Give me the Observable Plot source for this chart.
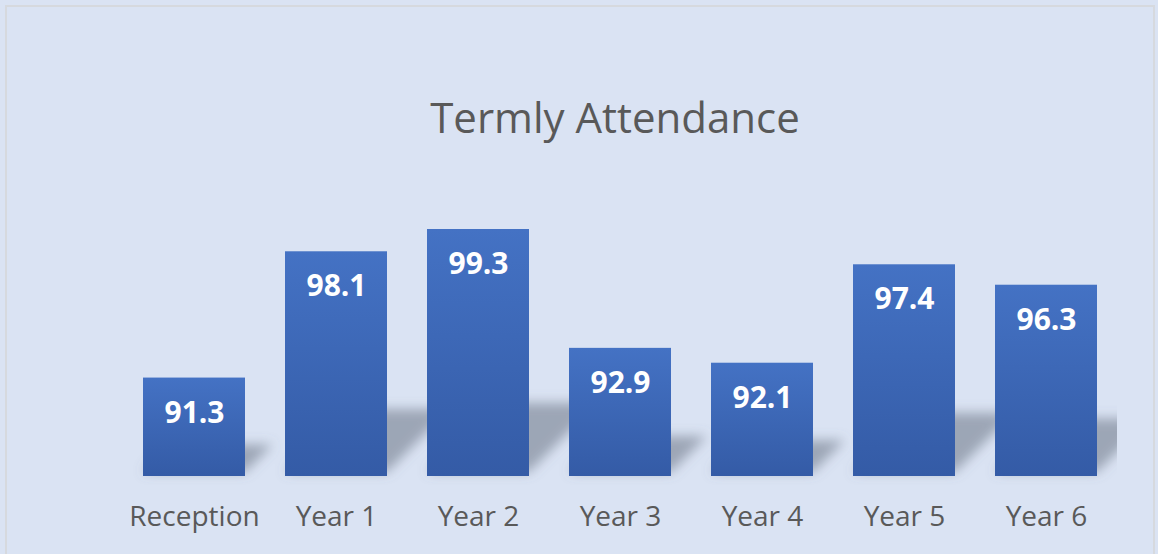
<!DOCTYPE html>
<html>
<head>
<meta charset="utf-8">
<script src="https://cdn.jsdelivr.net/npm/d3@7"></script>
<script src="https://cdn.jsdelivr.net/npm/@observablehq/plot@0.6"></script>
<style>
  html, body { margin: 0; padding: 0; background: #dae3f3; width: 1158px; height: 554px; overflow: hidden; }
  #frame { position: absolute; left: 5px; top: 5px; width: 1150px; height: 560px; border: 2px solid #d6d9de; border-bottom: none; box-sizing: border-box; }
  #title { position: absolute; left: 36px; width: 1158px; top: 89px; text-align: center; font-family: "Open Sans", sans-serif; font-size: 42px; color: #595959; line-height: 56px; }
  #chart { position: absolute; left: 0; top: 0; }
</style>
</head>
<body>
<div id="frame"></div>
<div id="chart"></div>
<div id="title">Termly Attendance</div>
<script>
const categories = ["Reception", "Year 1", "Year 2", "Year 3", "Year 4", "Year 5", "Year 6"];
const values = [91.3, 98.1, 99.3, 92.9, 92.1, 97.4, 96.3];
const yMin = 86;
const yMax = 100;

const data = categories.map((c, i) => ({category: c, value: values[i]}));

const plot = Plot.plot({
  width: 1158,
  height: 554,
  marginLeft: 123,
  marginRight: 41,
  marginTop: 216,
  marginBottom: 78,
  style: {background: "transparent", fontFamily: "Open Sans, sans-serif", overflow: "visible"},
  x: {domain: categories, paddingInner: 0.28, paddingOuter: 0.14, label: null},
  y: {domain: [yMin, yMax], axis: null},
  marks: [
    Plot.barY(data, {x: "category", y1: yMin, y2: "value", fill: "#6a7284", fillOpacity: 0.55}),
    Plot.barY(data, {x: "category", y1: yMin, y2: "value", fill: "url(#barGrad)"}),
    Plot.text(data, {x: "category", y: "value", text: d => d.value.toFixed(1), dy: 35, fill: "white", fontSize: 30, fontWeight: "bold"}),
    Plot.axisX({tickSize: 0, tickPadding: 30, fontSize: 28, color: "#595959", label: null})
  ]
});

document.getElementById("chart").appendChild(plot);

const svg = d3.select(plot);
const defs = svg.insert("defs", ":first-child");
const grad = defs.append("linearGradient").attr("id", "barGrad").attr("x1", 0).attr("y1", 0).attr("x2", 0).attr("y2", 1);
grad.append("stop").attr("offset", "0%").attr("stop-color", "#4472c4");
grad.append("stop").attr("offset", "100%").attr("stop-color", "#345ba6");
const blur = defs.append("filter").attr("id", "shadowBlur")
  .attr("filterUnits", "userSpaceOnUse").attr("x", 0).attr("y", 0).attr("width", 1158).attr("height", 554);
blur.append("feGaussianBlur").attr("stdDeviation", 6);

const xRange = plot.scale("x").range;
const base = plot.scale("y").apply(yMin);
const clip = defs.append("clipPath").attr("id", "shadowClip");
clip.append("rect").attr("x", 0).attr("y", 0).attr("width", xRange[1]).attr("height", 554);

const shadowNode = svg.selectAll('g[aria-label="bar"]').nodes()[0];
const outer = document.createElementNS("http://www.w3.org/2000/svg", "g");
const wrapper = document.createElementNS("http://www.w3.org/2000/svg", "g");
shadowNode.parentNode.insertBefore(outer, shadowNode);
outer.appendChild(wrapper);
wrapper.appendChild(shadowNode);
d3.select(outer).attr("clip-path", "url(#shadowClip)");
d3.select(wrapper).attr("filter", "url(#shadowBlur)");
d3.select(shadowNode)
  .attr("transform", `translate(0,${base - 4}) skewX(-45) scale(1,0.28) translate(0,${-base})`);
</script>
</body>
</html>
